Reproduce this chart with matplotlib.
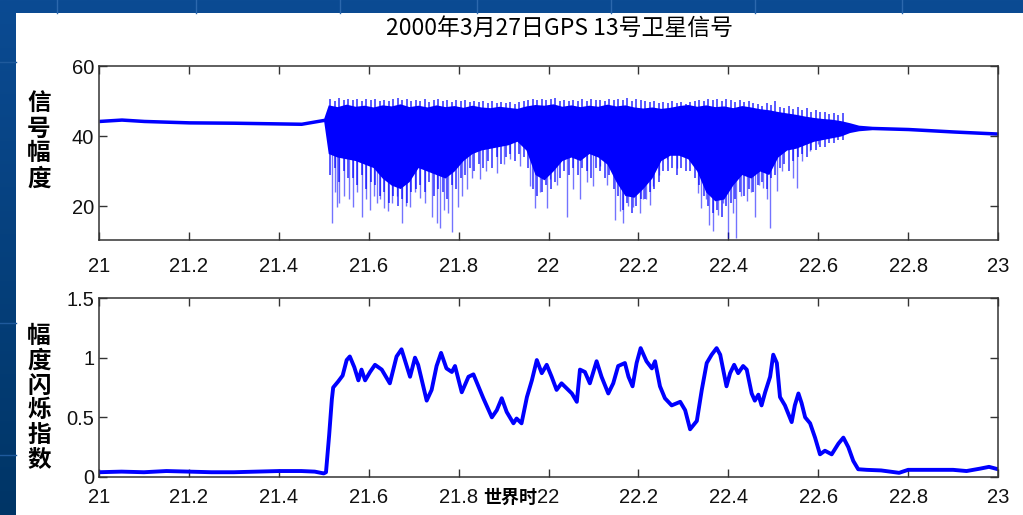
import numpy as np
import matplotlib.pyplot as plt
from matplotlib.patches import Rectangle
from matplotlib.colors import LinearSegmentedColormap

plt.rcParams['font.family'] = ['Liberation Sans', 'Noto Sans CJK SC', 'DejaVu Sans']

# GPS 13 signal amplitude: sample times, upper and lower edge of the dense trace
sig_t = [21.00, 21.05, 21.10, 21.20, 21.30, 21.40, 21.45, 21.50, 21.51, 21.53, 21.55,
         21.57, 21.59, 21.61, 21.63, 21.65, 21.67, 21.69, 21.71, 21.73, 21.75, 21.77,
         21.79, 21.81, 21.83, 21.85, 21.87, 21.89, 21.91, 21.93, 21.95, 21.97, 21.99,
         22.01, 22.03, 22.05, 22.07, 22.09, 22.11, 22.13, 22.15, 22.17, 22.19, 22.21,
         22.23, 22.25, 22.27, 22.29, 22.31, 22.33, 22.35, 22.37, 22.39, 22.41, 22.43,
         22.45, 22.47, 22.49, 22.51, 22.53, 22.55, 22.57, 22.59, 22.61, 22.63, 22.65,
         22.67, 22.69, 22.72, 22.80, 22.90, 23.00]
sig_hi = [44.8, 45.2, 44.8, 44.4, 44.3, 44.1, 44.0, 45.1,
          48.9, 48.4, 49.1, 48.5, 48.8, 48.3, 48.9, 48.6, 49.2, 48.4, 48.8, 48.3,
          48.9, 48.4, 48.7, 48.2, 48.8, 48.3, 48.1, 48.5, 48.2, 47.9, 48.6, 49.0,
          48.8, 49.2, 48.5, 48.9, 48.4, 48.8, 48.5, 49.1, 48.6, 48.9, 48.3, 48.0,
          48.3, 47.9, 48.2, 48.7, 49.0, 48.5, 48.9, 48.4, 48.6, 48.1, 48.7, 48.3,
          47.8, 47.5, 47.0, 46.6, 46.2, 45.7, 45.3, 45.0, 44.8, 44.4, 43.8, 43.1,
          42.8, 42.5, 41.8, 41.2]
sig_lo = [43.8, 44.2, 43.8, 43.4, 43.3, 43.1, 43.0, 44.1,
          35.0, 34.0, 33.5, 33.0, 32.0, 31.0, 28.0, 26.0, 25.0, 27.0, 31.0, 30.0,
          29.0, 28.0, 30.0, 33.0, 35.0, 36.0, 36.5, 37.0, 37.5, 38.5, 36.0, 29.0,
          27.5, 30.0, 33.0, 34.0, 33.0, 35.0, 34.0, 32.0, 27.0, 23.0, 22.5, 25.0,
          28.0, 33.0, 34.5, 34.5, 33.5, 30.0, 24.0, 21.5, 22.0, 26.0, 29.0, 28.0,
          30.0, 29.0, 34.0, 36.0, 36.5, 37.5, 38.5, 39.0, 39.5, 40.0, 41.0, 41.5,
          41.8, 41.5, 40.8, 40.2]

# min / max of the raw signal in 0.01 h bins over the scintillation period
bin_t = np.round(np.arange(21.515, 22.66, 0.01), 3)
bin_min = [29, 31, 27, 30, 28, 28, 26, 29, 25, 27, 26, 23, 24, 21, 23,
           20, 22, 21, 24, 25, 26, 24, 27, 23, 25, 24, 22, 26, 25, 28,
           29, 31, 30, 32, 31, 33, 31, 34, 32, 34, 35, 33, 35, 34, 31,
           25, 23, 24, 26, 25, 27, 28, 30, 29, 31, 29, 31, 30, 28, 31,
           30, 28, 29, 25, 23, 19, 21, 18, 20, 22, 22, 24, 25, 27, 30,
           30, 31, 29, 31, 30, 30, 28, 26, 23, 20, 18, 19, 17, 20, 21,
           22, 24, 23, 25, 24, 26, 27, 25, 28, 29, 31, 32, 30, 33, 34,
           35, 34, 36, 36, 37, 37, 38, 38, 39, 39]
bin_max = [50.5, 50.1, 50.8, 50.3, 50.6, 50.2, 50.7, 50.0, 50.5, 50.3,
           50.6, 50.1, 50.4, 49.9, 50.5, 50.8, 50.2, 50.6, 50.0, 50.4,
           50.1, 50.5, 49.8, 50.3, 50.6, 50.0, 50.4, 49.7, 50.2, 49.9,
           50.3, 49.8, 50.1, 49.6, 50.0, 49.5, 50.0, 49.4, 49.8, 49.3,
           49.6, 49.2, 49.7, 50.1, 50.4, 50.6, 50.2, 50.7, 50.3, 50.5,
           50.8, 50.1, 50.4, 50.0, 50.3, 49.9, 50.5, 50.1, 50.6, 50.2,
           50.4, 50.0, 50.6, 50.2, 50.7, 50.3, 50.8, 50.1, 50.5, 50.2,
           50.0, 49.6, 50.1, 49.5, 49.8, 49.4, 49.9, 49.3, 49.7, 49.2,
           49.6, 50.0, 50.4, 50.1, 50.6, 50.3, 50.7, 50.0, 50.5, 50.2,
           49.8, 50.3, 49.6, 50.0, 49.4, 49.2, 48.7, 49.5, 48.9, 49.9,
           48.4, 48.0, 48.6, 47.7, 48.2, 47.4, 47.9, 47.0, 47.5, 46.8,
           46.9, 46.4, 46.7, 46.0, 46.5]

# deep fades of the signal: time and minimum amplitude
fade_t = [21.518, 21.524, 21.529, 21.533, 21.545, 21.556, 21.566, 21.575, 21.584, 21.594,
          21.603, 21.611, 21.618, 21.626, 21.633, 21.644, 21.652, 21.662, 21.673, 21.682,
          21.692, 21.703, 21.714, 21.725, 21.740, 21.751, 21.759, 21.768, 21.777, 21.785,
          21.799, 21.808, 21.818, 21.830, 21.848, 21.862, 21.885, 21.900, 21.914, 21.937,
          21.959, 21.970, 21.982, 21.996, 22.004, 22.020, 22.041, 22.055, 22.070, 22.085,
          22.099, 22.114, 22.130, 22.148, 22.159, 22.166, 22.177, 22.188, 22.203, 22.210,
          22.218, 22.226, 22.233, 22.245, 22.263, 22.285, 22.315, 22.333, 22.340, 22.350,
          22.356, 22.367, 22.378, 22.388, 22.400, 22.410, 22.418, 22.428, 22.441, 22.450,
          22.459, 22.468, 22.478, 22.486, 22.493, 22.508, 22.520, 22.545, 22.553, 22.565,
          22.582, 22.600]
fade_min = [15.1, 24.0, 19.8, 20.9, 23.0, 22.0, 19.8, 24.0, 17.0, 22.0,
            18.9, 23.0, 20.9, 22.0, 19.4, 18.5, 21.0, 22.8, 15.1, 20.0,
            19.8, 24.0, 22.2, 21.0, 17.0, 15.1, 13.6, 19.0, 18.0, 12.7,
            19.8, 23.0, 24.8, 28.0, 27.6, 30.0, 29.5, 32.0, 33.3, 31.4,
            25.7, 19.4, 24.0, 19.4, 27.6, 26.0, 17.0, 24.8, 21.9, 27.0,
            25.7, 31.4, 26.0, 16.0, 18.5, 15.1, 20.0, 19.8, 18.0, 22.0,
            21.9, 20.4, 25.7, 29.0, 33.3, 31.0, 34.3, 23.8, 19.4, 22.0,
            14.7, 12.8, 17.5, 21.0, 10.9, 18.0, 10.9, 23.0, 21.3, 24.0,
            17.0, 26.0, 25.1, 22.0, 13.7, 24.2, 30.0, 28.0, 25.1, 33.0,
            35.7, 37.6]

# amplitude scintillation index
s4_t = [21.00, 21.05, 21.10, 21.15, 21.20, 21.25, 21.30, 21.35, 21.40, 21.45, 21.48, 21.50,
        21.505, 21.512, 21.518, 21.521, 21.532, 21.542, 21.551, 21.558, 21.568, 21.577,
        21.584, 21.592, 21.603, 21.614, 21.629, 21.647, 21.662, 21.673, 21.692, 21.703,
        21.710, 21.729, 21.740, 21.751, 21.761, 21.773, 21.785, 21.792, 21.807, 21.822,
        21.833, 21.844, 21.855, 21.874, 21.885, 21.896, 21.907, 21.922, 21.929, 21.940,
        21.952, 21.963, 21.974, 21.985, 21.996, 22.007, 22.018, 22.029, 22.041, 22.052,
        22.063, 22.070, 22.081, 22.092, 22.107, 22.118, 22.133, 22.144, 22.155, 22.170,
        22.178, 22.187, 22.196, 22.205, 22.218, 22.230, 22.237, 22.248, 22.259, 22.274,
        22.293, 22.304, 22.315, 22.330, 22.341, 22.352, 22.363, 22.374, 22.382, 22.396,
        22.404, 22.413, 22.422, 22.433, 22.441, 22.452, 22.459, 22.467, 22.474, 22.482,
        22.493, 22.500, 22.508, 22.515, 22.526, 22.541, 22.548, 22.556, 22.563, 22.571,
        22.582, 22.593, 22.604, 22.615, 22.630, 22.645, 22.656, 22.667, 22.678, 22.689,
        22.708, 22.74, 22.78, 22.80, 22.85, 22.90, 22.93, 22.96, 22.98, 23.00]
s4_v = [0.040, 0.045, 0.040, 0.050, 0.045, 0.040, 0.040, 0.045, 0.050, 0.050, 0.045, 0.030,
        0.040, 0.350, 0.650, 0.750, 0.800, 0.850, 0.980, 1.010, 0.920, 0.810,
        0.900, 0.810, 0.880, 0.940, 0.900, 0.785, 1.010, 1.070, 0.840, 1.000,
        0.940, 0.640, 0.730, 0.930, 1.040, 0.910, 0.880, 0.930, 0.710, 0.840,
        0.860, 0.760, 0.660, 0.500, 0.560, 0.660, 0.545, 0.450, 0.490, 0.450,
        0.670, 0.810, 0.980, 0.870, 0.940, 0.840, 0.730, 0.785, 0.740, 0.700,
        0.630, 0.900, 0.880, 0.785, 0.970, 0.840, 0.700, 0.785, 0.930, 0.955,
        0.840, 0.760, 0.955, 1.080, 0.970, 0.910, 0.970, 0.760, 0.660, 0.600,
        0.630, 0.560, 0.400, 0.470, 0.730, 0.955, 1.025, 1.080, 1.025, 0.760,
        0.870, 0.940, 0.870, 0.930, 0.900, 0.700, 0.640, 0.690, 0.600, 0.710,
        0.840, 1.025, 0.955, 0.670, 0.600, 0.460, 0.600, 0.700, 0.620, 0.500,
        0.450, 0.330, 0.190, 0.220, 0.190, 0.280, 0.330, 0.250, 0.135, 0.065,
        0.060, 0.055, 0.035, 0.060, 0.060, 0.060, 0.050, 0.070, 0.085, 0.065]

x_ticks = [21, 21.2, 21.4, 21.6, 21.8, 22, 22.2, 22.4, 22.6, 22.8, 23]
x_labels = ['21', '21.2', '21.4', '21.6', '21.8', '22', '22.2', '22.4', '22.6', '22.8', '23']

W, H = 1023, 515
fig = plt.figure(figsize=(W / 100, H / 100), dpi=100)

# slide background: blue gradient frame with white panel
bg = fig.add_axes([0, 0, 1, 1], zorder=-10)
grad = np.linspace(0, 1, 256)[:, None]
cmap = LinearSegmentedColormap.from_list('slide', ['#0b4b93', '#003566'])
bg.imshow(grad, extent=(0, W, H, 0), aspect='auto', cmap=cmap)
for gx in [57, 196, 340, 477, 611, 755, 902]:
    bg.plot([gx, gx], [0, 13], color='#2c68ad', lw=1)
for gy in [62, 323, 455]:
    bg.plot([0, 16], [gy, gy], color='#1f5a9c', lw=1)
bg.add_patch(Rectangle((16, 13), W - 16, H - 13, facecolor='white', edgecolor='none'))
bg.set_xlim(0, W)
bg.set_ylim(H, 0)
bg.axis('off')

blue = '#0000ff'
cjk = ['Noto Sans CJK SC', 'DejaVu Sans']


def style(ax):
    ax.set_xlim(21, 23)
    ax.set_xticks(x_ticks)
    ax.set_xticklabels(x_labels)
    ax.tick_params(direction='in', length=6, width=1, top=True, right=True,
                   labelsize=14.5, color='#333333', labelcolor='#111111')
    for s in ax.spines.values():
        s.set_color('#333333')
        s.set_linewidth(1.1)


ax1 = fig.add_axes([99 / W, 1 - 240 / H, 899 / W, 174 / H])
ax1.fill_between(sig_t, sig_lo, sig_hi, color=blue, lw=0)
ax1.vlines(bin_t, bin_min, bin_max, color=blue, alpha=0.7, lw=1.3)
fade_top = np.interp(fade_t, sig_t, sig_lo) + 1.5
ax1.vlines(fade_t, fade_min, fade_top, color=blue, alpha=0.55, lw=1.0)
ax1.set_ylim(10.3, 60)
ax1.set_yticks([20, 40, 60])
style(ax1)
ax1.tick_params(axis='x', pad=12)

ax2 = fig.add_axes([99 / W, 1 - 477 / H, 899 / W, 179 / H])
ax2.plot(s4_t, s4_v, color=blue, lw=2.8)
ax2.set_ylim(0, 1.5)
ax2.set_yticks([0, 0.5, 1, 1.5])
ax2.set_yticklabels(['0', '0.5', '1', '1.5'])
style(ax2)
ax2.tick_params(axis='x', pad=8)

fig.text(559 / W, 1 - 28 / H, '2000年3月27日GPS 13号卫星信号', ha='center', va='center',
         fontsize=16.5, family=cjk)
fig.text(39 / W, 1 - 141 / H, '信\n号\n幅\n度', ha='center', va='center',
         fontsize=17, fontweight='bold', family=cjk, linespacing=1.05)
fig.text(39 / W, 1 - 398 / H, '幅\n度\n闪\n烁\n指\n数', ha='center', va='center',
         fontsize=17, fontweight='bold', family=cjk, linespacing=1.05)
fig.text(510 / W, 1 - 497 / H, '世界时', ha='center', va='center',
         fontsize=13, fontweight='bold', family=cjk)

fig.savefig('out.png', dpi=100)
